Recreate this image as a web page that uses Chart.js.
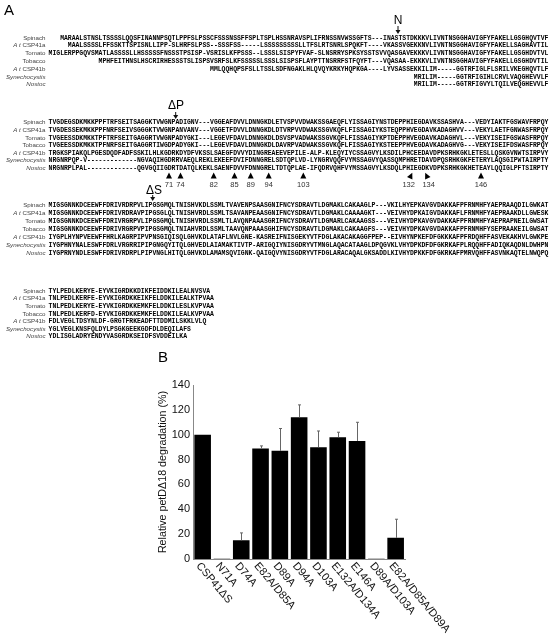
<!DOCTYPE html>
<html>
<head>
<meta charset="utf-8">
<title>petD degradation</title>
<script src="https://cdn.jsdelivr.net/npm/chart.js@4/dist/chart.umd.min.js"></script>
<style>
  html, body { margin: 0; padding: 0; background: #fff; }
  canvas { display: block; }
</style>
</head>
<body>
<canvas id="grafico" width="551" height="635"></canvas>
<script>
// Painel B
const categorias = ["CSP41\u0394S", "N71A", "D74A", "E82A/D85A", "D89A", "D94A", "D103A", "E132A/D134A", "E146A", "D89A/D103A", "E82A/D85A/D89A"];
const valores = [100, 0.3, 15, 89, 87, 114, 90, 98, 95, 0.3, 17];
const topoErro = [100, 0.3, 21, 91, 105, 124, 103, 102, 110, 0.3, 32];
const ticksY = [0, 20, 40, 60, 80, 100, 120, 140];

// Painel A - alinhamento
const nomes = ["Spinach", "A t CSP41a", "Tomato", "Tobacco", "A t CSP41b", "Synechocystis", "Nostoc"];
const bloco1 = [
  "   MARAALSTNSLTSSSSLQQSFINANNPSQTLPPFSLPSSCFSSSNSSFFSPLTSPLHSSNRAVSPLIFRNSSNVWSSGFTS---INASTSTDKKKVLIVNTNSGGHAVIGFYFAKELLGSGHQVTVF",
  "     MAALSSSSLFFSSKTTSPISNLLIPP-SLHRFSLPSS--SSSFSS-----LSSSSSSSSSLLTFSLRTSNRLSPQKFT----VKASSVGEKKNVLIVNTNSGGHAVIGFYFAKELLSAGHAVTIL",
  "MIGLERPPGQVSMATLASSSSLLHSSSSSFNSSSTPSISP-VSRISLKFPSSS--LSSSLSISPYFVAF-SLNSRRYSPKSYSSTSVVQASGAVEKKKVLIVNTNSGGHAVIGFYFAKELLGSGHDVTVL",
  "             MPHFEITHNSLHSCRIRHESSSTSLISPSVSRFSLKFSSSSSLSSSLSISPSFLAYPTTNSRRFSTFQYFT---VQASAA-EKKKVLIVNTNSGGHAVIGFYFAKELLGSGHDVTIL",
  "                                          MMLQQHQPSFSLLTSSLSDFNGAKLHLQVQYKRKYHQPKGA----LYVSASSEKKILIM-----GGTRFIGLFLSRILVKEGHQVTLF",
  "                                                                                               MRILIM-----GGTRFIGIHLCRVLVAQGHEVVLF",
  "                                                                                               MRILIM-----GGTRFIGVYLTQILVEQGHEVVLF"
];
const bloco2 = [
  "TVGDEGSDKMKKPPFTRFSEITSAGGKTVWGNPADIGNV---VGGEAFDVVLDNNGKDLETVSPVVDWAKSSGAEQFLYISSAGIYNSTDEPPHIEGDAVKSSASHVA---VEDYIAKTFGSWAVFRPQY",
  "TVGDESSEKMKKPPFNRFSEIVSGGGKTVWGNPANVANV---VGGETFDVVLDNNGKDLDTVRPVVDWAKSSGVKQFLFISSAGIYKSTEQPPHVEGDAVKADAGHVV---VEKYLAETFGNWASFRPQY",
  "TVGEESSDKMKKTPFTRFSEITGAGGRTVWGNPADYGKI---LEGEVFDAVLDNNGKDLDSVSPVADWAKSSGVKQFLFISSAGIYKPTDEPPHVEGDAVKADAGHVL---VEKYISEIFGSWASFRPQY",
  "TVGEESSDKMKKTPFNRFSEITGAGGRTIWGDPADYGKI---LEGEVFDAVLDNNGKDLDAVRPVADWAKSSGVKQFLFISSAGIYKSTEEPPHVEGDAVKADAGHVG---VEKYISEIFDSWASFRPQY",
  "TRGKSPIAKQLPGESDQDFADFSSKILHLKGDRKDYDFVKSSLSAEGFDVVYDINGREAEEVEPILE-ALP-KLEQYIYCSSAGVYLKSDILPHCEEDAVDPKSRHKGKLETESLLQSKGVNWTSIRPVY",
  "NRGNRPQP-V-------------NGVAQIHGDRRVAEQLREKLEKEEFDVIFDNNGRELSDTQPLVD-LYNGRVQQFVYMSSAGVYQASSQMPHRETDAVDPQSRHKGKFETERYLAQSGIPWTAIRPTY",
  "NRGNRPLPAL-------------QGVGQIIGDRTDATQLKEKLSAENFDVVFDNNGRELTDTQPLAE-IFQDRVQHFVYMSSAGVYLKSDQLPHIEGDKVDPKSRHKGKHETEAYLQQIGLPFTSIRPTY"
];
const bloco3 = [
  "MIGSGNNKDCEEWFFDRIVRDRPVLIPGSGMQLTNISHVKDLSSMLTVAVENPSAASGNIFNCYSDRAVTLDGMAKLCAKAAGLP---VKILHYEPKAVGVDAKKAFPFRNMHFYAEPRAAQDILGWKAT",
  "MIGSGNNKDCEEWFFDRIVRDRAVPIPGSGLQLTNISHVRDLSSMLTSAVANPEAASGNIFNCYSDRAVTLDGMAKLCAAAAGKT---VEIVHYDPKAIGVDAKKAFLFRNMHFYAEPRAAKDLLGWESK",
  "MIGSGNNKDCEEWFFDRIVRGRPVLIPGSGMQLTNISHVRDLSSMLTLAVQNPAAASGRIFNCYSDRAVTLDGMARLCAKAAGSS---VEIVHYDPKAVGVDAKKAFPFRNMHFYAEPRAPNEILGWSAT",
  "MIGSGNNKDCEEWFFDRIVRGRPVPIPGSGMQLTNIAHVRDLSSMLTAAVQNPAAASGHIFNCYSDRAVTLDGMAKLCAKAAGFS---VEIVHYDPKAVGVDAKKAFPFRNMHFYSEPRAAKEILGWSAT",
  "IYGPLHYNPVEEWFFHRLKAGRPIPVPNSGIQISQLGHVKDLATAFLNVLGNE-KASREIFNISGEKYVTFDGLAKACAKAGGFPEP--EIVHYNPKEFDFGKKKAFPFRDQHFFASVEKAKHVLGWKPE",
  "IYGPHNYNALESWFFDRLVRGRRIPIPGNGQYITQLGHVEDLAIAMAKTIVTP-ARIGQIYNISGDRYVTMNGLAQACATAAGLDPQGVKLVHYDPKDFDFGKRKAFPLRQQHFFADIQKAQDNLDWHPN",
  "IYGPRNYNDLESWFFDRIVRDRPLPIPVNGLHITQLGHVKDLAMAMSQVIGNK-QAIGQVYNISGDRYVTFDGLARACAQALGKSADDLKIVHYDPKKFDFGKRKAFPMRVQHFFASVNKAQTELNWQPQ"
];
const bloco4 = [
  "TYLPEDLKERYE-EYVKIGRDKKDIKFEIDDKILEALNVSVA",
  "TNLPEDLKERFE-EYVKIGRDKKEIKFELDDKILEALKTPVAA",
  "TNLPEDLKERYE-EYVKIGRDKKEMKFELDDKILESLKVPVAA",
  "TNLPEDLKERFD-EYVKIGRDKKEMKFELDDKILEALKVPVAA",
  "FDLVEGLTDSYNLDF-GRGTFRKEADFTTDDMILSKKLVLQ",
  "YGLVEGLKNSFQLDYLPSGKGEEKGDFDLDEQILAFS",
  "YDLISGLADRYENDYVASGRDKSEIDFSVDDEILKA"
];
const residuos = ["71", "74", "82", "85", "89", "94", "103", "132", "134", "146"];

// Posição em x de cada resíduo marcado
const residuosX = [169, 180.5, 213.7, 234.5, 250.7, 268.7, 303.3, 411, 426.5, 481];
const rotuloX = [169, 180.5, 213.7, 234.5, 250.7, 268.7, 303.3, 408.7, 428.7, 481];
const inclinacao = { "132": 0.45, "134": -0.45 };

function setaBaixo(ctx, x, y1, y2) {
  ctx.strokeStyle = "#111";
  ctx.fillStyle = "#111";
  ctx.lineWidth = 1;
  ctx.beginPath();
  ctx.moveTo(x, y1);
  ctx.lineTo(x, y2 - 3);
  ctx.stroke();
  ctx.beginPath();
  ctx.moveTo(x - 2.5, y2 - 4);
  ctx.lineTo(x + 2.5, y2 - 4);
  ctx.lineTo(x, y2);
  ctx.closePath();
  ctx.fill();
}

function desenhaBloco(ctx, linhas, ys) {
  nomes.forEach((nome, i) => {
    const italico = i === 5 || i === 6;
    ctx.font = (italico ? "italic " : "") + "6.2px 'Liberation Sans'";
    ctx.fillStyle = "#444";
    ctx.textAlign = "right";
    if (nome.startsWith("A t")) {
      ctx.fillText(nome.slice(3), 45.5, ys[i]);
      const w = ctx.measureText(nome.slice(3)).width;
      ctx.font = "italic 6.2px 'Liberation Sans'";
      ctx.fillText("A t", 45.5 - w, ys[i]);
    } else {
      ctx.fillText(nome, 45.5, ys[i]);
    }
    ctx.font = "bold 6.42px 'Liberation Mono'";
    ctx.fillStyle = "#000";
    ctx.textAlign = "left";
    ctx.fillText(linhas[i], 48.6, ys[i]);
  });
}

// Painel A inteiro e rótulos do eixo x inclinados
const painelA = {
  id: "painelA",
  afterDraw(chart) {
    const ctx = chart.ctx;
    ctx.save();
    ctx.textBaseline = "middle";
    desenhaBloco(ctx, bloco1, [38.3, 45.7, 53.3, 61.3, 69, 77, 84.7]);
    desenhaBloco(ctx, bloco2, [122.3, 130.3, 138, 145.5, 153, 160.7, 168.7]);
    desenhaBloco(ctx, bloco3, [205.7, 213.3, 221, 229, 237, 245, 253]);
    desenhaBloco(ctx, bloco4, [291, 298.7, 306.3, 314.3, 321.7, 329, 336.7]);

    ctx.fillStyle = "#000";
    ctx.textAlign = "left";
    ctx.font = "15px 'Liberation Sans'";
    ctx.fillText("A", 4, 11);
    ctx.fillText("B", 158, 358);
    ctx.textAlign = "center";
    ctx.font = "12px 'Liberation Sans'";
    ctx.fillText("N", 398, 21);
    ctx.fillText("\u0394P", 176, 106);
    ctx.fillText("\u0394S", 154, 191);
    setaBaixo(ctx, 398, 26, 34);
    setaBaixo(ctx, 175.7, 112, 119);
    setaBaixo(ctx, 152.7, 195, 201);

    residuos.forEach((r, i) => {
      const x = residuosX[i];
      const t = inclinacao[r] || 0;
      ctx.save();
      ctx.translate(x, 175.5);
      ctx.rotate(t);
      ctx.fillStyle = "#000";
      ctx.beginPath();
      ctx.moveTo(0, -3);
      ctx.lineTo(3, 3);
      ctx.lineTo(-3, 3);
      ctx.closePath();
      ctx.fill();
      ctx.restore();
      ctx.fillStyle = "#333";
      ctx.font = "7.5px 'Liberation Sans'";
      ctx.fillText(r, rotuloX[i], 185);
    });

    // Rótulos do eixo x
    const eixoX = chart.scales.x;
    ctx.font = "11px 'Liberation Sans'";
    ctx.fillStyle = "#111";
    ctx.textAlign = "left";
    categorias.forEach((c, i) => {
      ctx.save();
      ctx.translate(eixoX.getPixelForTick(i) - 4.5, eixoX.top + 5);
      ctx.rotate(50 * Math.PI / 180);
      ctx.fillText(c, 0, 0);
      ctx.restore();
    });
    ctx.restore();
  }
};

const barrasErro = {
  id: "barrasErro",
  afterDatasetsDraw(chart) {
    const ctx = chart.ctx;
    const meta = chart.getDatasetMeta(0);
    const y = chart.scales.y;
    ctx.save();
    ctx.strokeStyle = "#666";
    ctx.lineWidth = 1;
    topoErro.forEach((topo, i) => {
      if (topo <= valores[i]) return;
      const x = Math.round(meta.data[i].x) + 0.5;
      ctx.beginPath();
      ctx.moveTo(x, y.getPixelForValue(valores[i]));
      ctx.lineTo(x, y.getPixelForValue(topo));
      ctx.moveTo(x - 1.5, y.getPixelForValue(topo));
      ctx.lineTo(x + 1.5, y.getPixelForValue(topo));
      ctx.stroke();
    });
    ctx.restore();
  }
};

const ctx = document.getElementById("grafico").getContext("2d");
new Chart(ctx, {
  type: "bar",
  data: {
    labels: categorias,
    datasets: [{
      label: "Relative petD\u039418 degradation (%)",
      data: valores,
      backgroundColor: "#000",
      borderWidth: 0,
      categoryPercentage: 1,
      barPercentage: 0.86
    }]
  },
  options: {
    responsive: false,
    animation: false,
    events: [],
    layout: { padding: { left: 157, top: 385, right: 145.7, bottom: 76 } },
    plugins: { legend: { display: false }, tooltip: { enabled: false } },
    scales: {
      x: {
        grid: { display: false },
        border: { color: "#888" },
        ticks: { display: false },
        afterFit: s => { s.height = 0; }
      },
      y: {
        min: 0,
        max: 140,
        afterBuildTicks: s => { s.ticks = ticksY.map(v => ({ value: v })); },
        grid: { display: false, drawTicks: false },
        border: { color: "#888" },
        ticks: { padding: 3, color: "#111", font: { family: "'Liberation Sans'", size: 11 } },
        title: {
          display: true,
          text: "Relative petD\u039418 degradation (%)",
          color: "#111",
          padding: 0,
          font: { family: "'Liberation Sans'", size: 10.7 }
        },
        afterFit: s => { s.width = 36; }
      }
    }
  },
  plugins: [barrasErro, painelA]
});
</script>
</body>
</html>
